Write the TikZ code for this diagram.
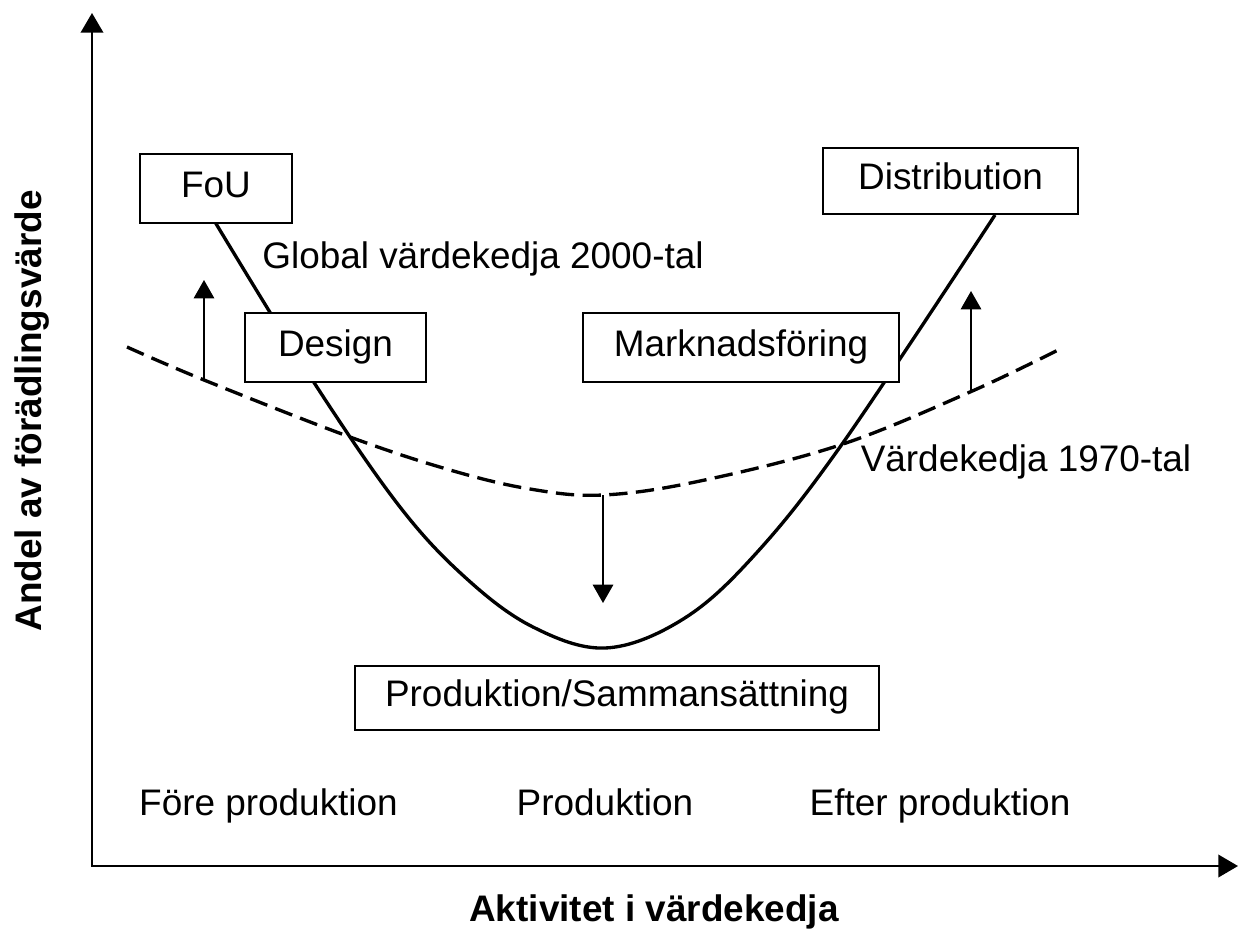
\documentclass[tikz,border=0pt]{standalone}
\usepackage{fontspec}
\setmainfont{Liberation Sans}
\usetikzlibrary{arrows.meta}

\tikzset{
	box/.style={draw, line width=0.6pt, fill=white, inner sep=0pt, text height=0.72em, text depth=0.22em},
	lbl/.style={inner sep=0pt, text height=0.72em, text depth=0.22em},
	axislbl/.style={lbl, font=\fontsize{10.5}{12.6}\selectfont\bfseries},
	shiftarrow/.style={line width=0.45pt, -{Triangle[length=5.2pt,width=5.8pt]}},
}

\begin{document}
\begin{tikzpicture}[x=0.01cm, y=-0.01cm, font=\fontsize{10.5}{12.6}\selectfont]
	\useasboundingbox (0,0) rectangle (1240,930);

	%axes
	\coordinate (origin) at (92,866);
	\coordinate (ytip) at (92,13);
	\coordinate (xtip) at (1238,866);
	\draw[line width=0.6pt, {Triangle[length=5.6pt,width=6.4pt]}-{Triangle[length=5.6pt,width=6.4pt]}] (ytip) -- (origin) -- (xtip);

	%value chain 2000-tal
	\draw[line width=0.95pt] plot[smooth, tension=0.6] coordinates {(215,222) (313,381) (400,507) (467,579) (533,627) (605,648) (680,621) (750,560) (840,447) (995,215)};

	%value chain 1970-tal
	\draw[line width=0.95pt, dash pattern=on 5.2pt off 2.4pt] plot[smooth, tension=0.6] coordinates {(127,347) (204,380) (350,437) (450,470) (530,489) (603,495) (700,481) (840,445) (970,392) (1058,350)};

	%shifts
	\coordinate (l0) at (204,380);
	\coordinate (l1) at (204,280);
	\coordinate (m0) at (603,495);
	\coordinate (m1) at (603,603);
	\coordinate (r0) at (971,392);
	\coordinate (r1) at (971,291);
	\draw[shiftarrow] (l0) -- (l1);
	\draw[shiftarrow] (m0) -- (m1);
	\draw[shiftarrow] (r0) -- (r1);

	%boxes
	\node[box, minimum width=1.52cm, minimum height=0.69cm] (fou)    at (216,188.5) {FoU};
	\node[box, minimum width=2.55cm, minimum height=0.66cm] (distr)  at (950.5,181) {Distribution};
	\node[box, minimum width=1.81cm, minimum height=0.69cm] (design) at (335.5,347.5) {Design};
	\node[box, minimum width=3.16cm, minimum height=0.69cm] (mark)   at (741,347.5) {Marknadsföring};
	\node[box, minimum width=5.24cm, minimum height=0.64cm] (prod)   at (617,698) {Produktion/Sammansättning};

	%labels
	\node[lbl] (global) at (483,260) {Global värdekedja 2000-tal};
	\node[lbl] (old)    at (1026,463) {Värdekedja 1970-tal};
	\node[lbl] (fore)   at (268.5,807) {Före produktion};
	\node[lbl] (under)  at (605,807) {Produktion};
	\node[lbl] (efter)  at (940,807) {Efter produktion};
	%
	\node[axislbl] (xlbl) at (654,913) {Aktivitet i värdekedja};
	\node[axislbl, rotate=90] (ylbl) at (33,411) {Andel av förädlingsvärde};
\end{tikzpicture}
\end{document}
